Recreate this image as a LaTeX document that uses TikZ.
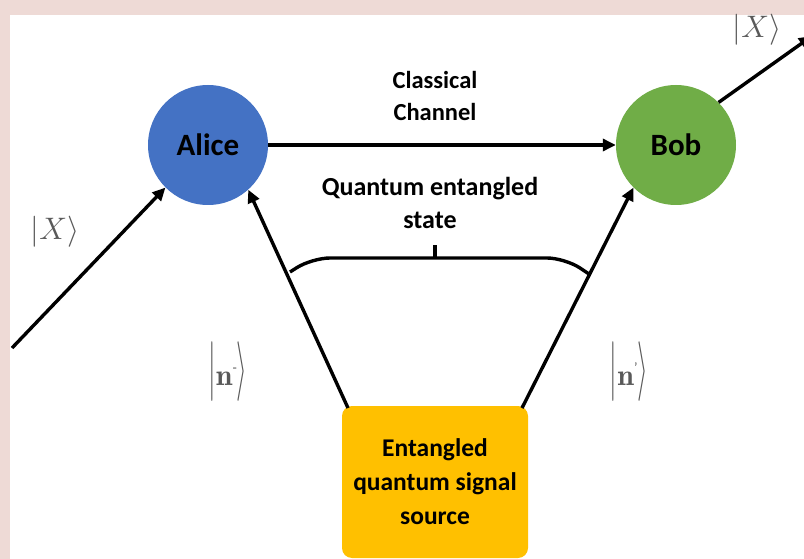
\documentclass[tikz,border=0pt]{standalone}
\usepackage{fontspec}
\setmainfont{Carlito}
\usepackage{graphicx}
\usetikzlibrary{arrows.meta}
\definecolor{alicec}{HTML}{4472C4}
\definecolor{bobc}{HTML}{70AD47}
\definecolor{srcc}{HTML}{FFC000}
\definecolor{bgpink}{HTML}{EEDAD6}
\newcommand{\bigket}[1]{\scalebox{1.1}[2.4]{$|$}\raisebox{1pt}{{\fontfamily{lmr}\fontsize{30}{32}\selectfont\bfseries n}\raisebox{13pt}{\fontsize{14}{16}\selectfont #1}}\scalebox{1.1}[2.4]{$\rangle$}}
\newcommand{\xket}{\scalebox{1.25}{$|X\rangle$}}
\tikzset{
  party/.style={circle, minimum size=120pt, inner sep=0pt, font=\fontsize{31}{34}\selectfont\bfseries},
  conn/.style={line width=3.4pt, -{Triangle[length=13pt,width=12pt]}},
  plain/.style={line width=3.4pt},
  lbl/.style={align=center, font=\fontsize{24.5}{32}\selectfont\bfseries},
  ket/.style={font=\fontsize{24}{28}\selectfont, black!65}
}
\begin{document}
\begin{tikzpicture}[x=1pt,y=-1pt]
\useasboundingbox (0,0) rectangle (804,559);
\fill[bgpink] (0,0) rectangle (804,559);
\fill[white] (10,15) rectangle (804,559);
\node[party, fill=alicec] (Alice) at (208,145) {Alice};
\node[party, fill=bobc] (Bob) at (676,145) {Bob};
\node[fill=srcc, rounded corners=10pt, minimum width=186pt, minimum height=152pt, inner sep=0pt,
      align=center, font=\fontsize{25.5}{34}\selectfont\bfseries] (src) at (435,482)
      {Entangled\\quantum signal\\source};
\coordinate (sL) at (348,408);
\coordinate (sR) at (522,408);
\coordinate (inX) at (12,348);
\coordinate (outX) at (812,36);
\draw[conn] (Alice) -- (Bob);
\node[lbl] (cc) at (435,96) {Classical\\Channel};
\draw[conn] (inX) -- (Alice.225);
\draw[conn] (sL) -- (Alice.-48);
\draw[conn] (sR) -- (Bob.225);
\draw[conn] (Bob.45) -- (outX);
\node[lbl, font=\fontsize{26}{33}\selectfont\bfseries] (qes) at (430,203) {Quantum entangled\\state};
\coordinate (bl) at (290,272);
\coordinate (br) at (589,274);
\coordinate (bm) at (435,258);
\draw[plain, rounded corners=18pt] (bl) -- (312,258) -- (565,258) -- (br);
\draw[plain] (bm) -- ++(0,-13);
\node[ket] (kx1) at (55,232) {\xket};
\node[ket] (kx2) at (757,30) {\xket};
\node[ket] (kn1) at (228,372) {\bigket{-}};
\node[ket] (kn2) at (629,372) {\bigket{'}};
\end{tikzpicture}
\end{document}
